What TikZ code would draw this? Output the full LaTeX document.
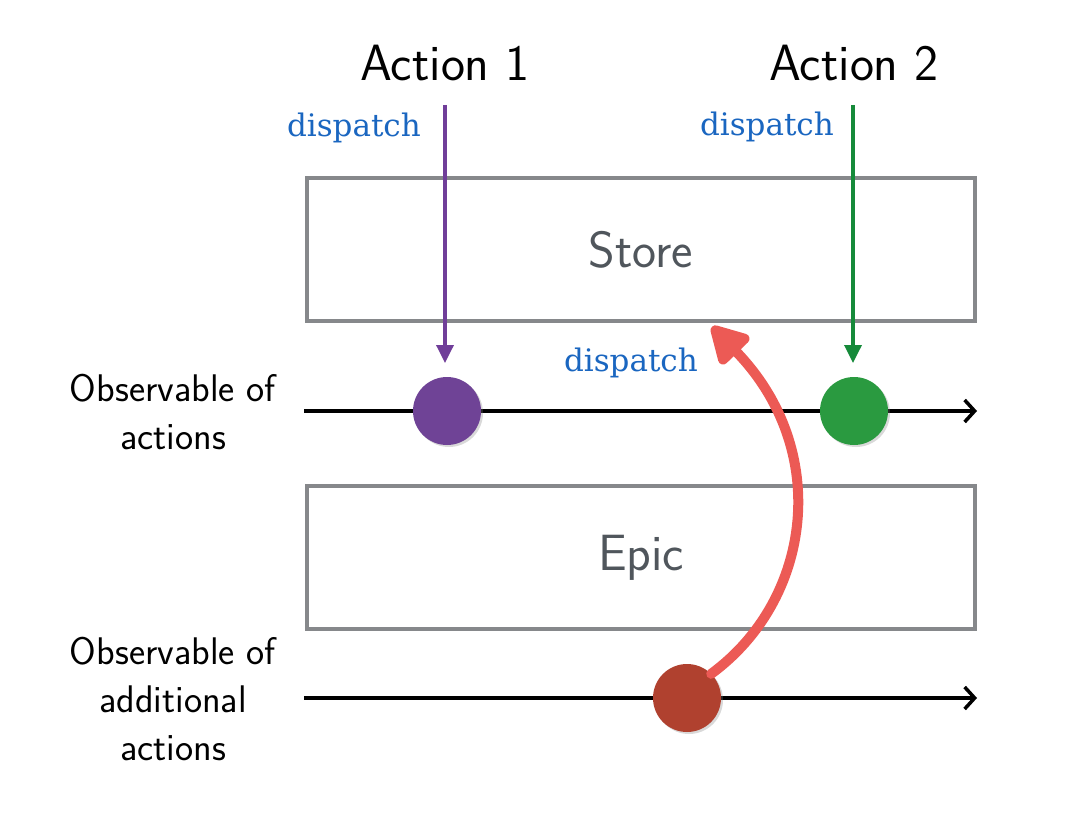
\documentclass[tikz,border=0pt]{standalone}
\usepackage{fontspec}
\newfontfamily\slab{DejaVu Serif}
\usetikzlibrary{arrows.meta,shadows}
\definecolor{boxgray}{HTML}{86888B}
\definecolor{txtgray}{HTML}{50565C}
\definecolor{dispblue}{HTML}{1A66C0}
\definecolor{apurple}{HTML}{703E99}
\definecolor{agreen}{HTML}{168A3A}
\definecolor{dpurple}{HTML}{6F4396}
\definecolor{dgreen}{HTML}{2A9A40}
\definecolor{dred}{HTML}{B0412F}
\definecolor{sketchred}{HTML}{EC5A55}
\begin{document}
\begin{tikzpicture}[x=1pt,y=-1pt,
  title/.style={font=\sffamily\fontsize{51}{56}\selectfont, inner sep=0pt},
  stagebox/.style={draw=boxgray, line width=3.5pt, minimum width=668pt, minimum height=143pt,
     font=\sffamily\fontsize{51}{56}\selectfont, text=txtgray, inner sep=0pt},
  dot/.style={circle, minimum size=68pt, inner sep=0pt,
     drop shadow={opacity=0.3, shadow xshift=2pt, shadow yshift=-2pt}},
  disp/.style={font=\slab\fontsize{31}{36}\selectfont, text=dispblue, inner sep=0pt},
  obs/.style={font=\sffamily\fontsize{38.5}{48}\selectfont, align=center, inner sep=0pt},
  timeline/.style={line width=3.5pt, -{Straight Barb[length=10pt,width=22pt,line width=3.5pt]}},
  dispatcharrow/.style={line width=3.5pt, -{Triangle[length=18pt,width=17pt]}}
]
\useasboundingbox (0,0) rectangle (1068,818);

% titles
\node[title] (a1) at (445,63) {Action 1};
\node[title] (a2) at (854,63) {Action 2};

% boxes
\node[stagebox] (store) at (641,249.5) {Store};
\node[stagebox] (epic) at (641,557.5) {Epic};

% timelines
\coordinate (t1s) at (304,411);
\coordinate (t1e) at (977,411);
\coordinate (t2s) at (304,698);
\coordinate (t2e) at (977,698);
\draw[timeline] (t1s) -- (t1e);
\draw[timeline] (t2s) -- (t2e);

% dots
\node[dot, fill=dpurple] (c1) at (447,411) {};
\node[dot, fill=dgreen] (c2) at (854,411) {};
\node[dot, fill=dred] (rc) at (687,698) {};

% dispatch arrows
\coordinate (p1) at (445,105);
\coordinate (p2) at (853,105);
\coordinate (q1) at (445,363);
\coordinate (q2) at (853,363);
\draw[dispatcharrow, draw=apurple, fill=apurple] (p1) -- (q1);
\draw[dispatcharrow, draw=agreen, fill=agreen] (p2) -- (q2);

% dispatch labels
\node[disp, anchor=east] (d1) at (421,128) {dispatch};
\node[disp, anchor=east] (d2) at (834,127) {dispatch};
\node[disp, anchor=east] (d3) at (698,363) {dispatch};

% sketchy red arrow
\coordinate (rtip) at ([xshift=71pt,yshift=-4pt]store.south);
\draw[sketchred, line width=10pt, line cap=round,
      -{Triangle[length=42pt,width=44pt,round]}]
  (rc.45) .. controls (812,600) and (832,450) .. (rtip);

% observable labels
\node[obs] (o1) at (173,412) {Observable of\\actions};
\node[obs] (o2) at (173,699) {Observable of\\additional\\actions};
\end{tikzpicture}
\end{document}
